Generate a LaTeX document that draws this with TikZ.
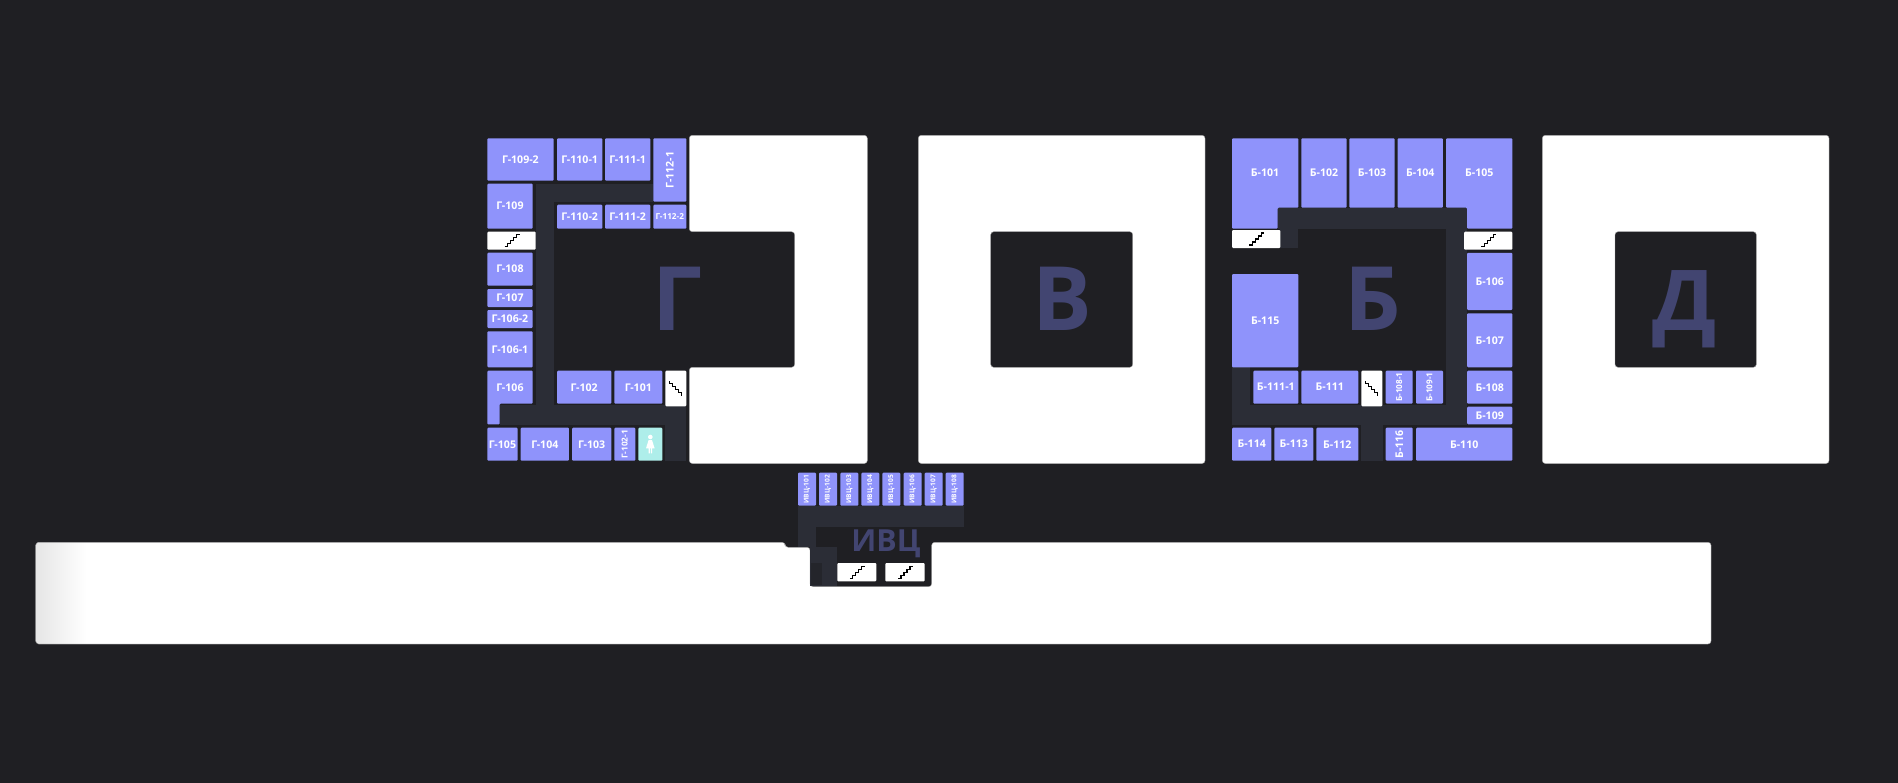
\documentclass[tikz,border=0pt]{standalone}
\usepackage{fontspec}
\setmainfont{Open Sans}[BoldFont={Open Sans Bold}]
\usepackage{xcolor}
\definecolor{mapdark}{RGB}{31,31,35}
\definecolor{mapcorridor}{RGB}{43,45,54}
\definecolor{mappatch}{RGB}{36,37,43}
\definecolor{maproom}{RGB}{143,147,251}
\definecolor{mapletter}{RGB}{66,69,113}
\definecolor{mapwc}{RGB}{174,238,234}
\tikzset{
  room/.style 2 args={
    rectangle,
    rounded corners=0.5pt,
    fill=maproom,
    text=white,
    inner sep=0pt,
    minimum width=#1*0.5pt,
    minimum height=#2*0.5pt,
    font=\bfseries\fontsize{5.3}{6}\selectfont
  },
  roomsmall/.style={
    font=\bfseries\fontsize{4.1}{5}\selectfont
  },
  roomtiny/.style={
    font=\bfseries\fontsize{3.3}{4}\selectfont
  },
  stairbox/.style 2 args={
    rectangle,
    rounded corners=0.5pt,
    fill=white,
    inner sep=0pt,
    minimum width=#1*0.5pt,
    minimum height=#2*0.5pt
  },
  building/.style={
    fill=white,
    draw=black!35,
    line width=0.2pt,
    rounded corners=1.5pt
  },
  court/.style={
    fill=mapdark,
    draw=black!35,
    line width=0.2pt,
    rounded corners=1.5pt
  },
  corridor/.style={
    fill=mapcorridor
  },
  wingletter/.style={
    text=mapletter,
    inner sep=0pt,
    font=\bfseries\fontsize{44.4}{50}\selectfont
  },
  stairs/.pic={
    \draw[black, line width=0.55pt, line join=miter]
      (-7,6) -- (-4,6) -- (-4,3) -- (-1,3) -- (-1,0) -- (2,0) -- (2,-3) -- (5,-3) -- (5,-6) -- (8,-6);
  }
}
\begin{document}
\begin{tikzpicture}[x=0.5pt,y=-0.5pt]
\useasboundingbox (0,0) rectangle (1898,782);
\fill[mapdark] (-6,-6) rectangle (1904,788);

% corridors
\fill[corridor] (535.7,183.7) rectangle (553.7,425);
\fill[corridor] (535.7,183.7) rectangle (653.3,201.7);
\fill[corridor] (499.7,405) rectangle (686.3,425);
\fill[corridor] (665.3,425) rectangle (686.3,460.7);
\fill[corridor] (1277.7,207.7) rectangle (1467,228.7);
\fill[corridor] (1280.3,228) rectangle (1298.3,248);
\fill[corridor] (1446,207.7) rectangle (1467,425);
\fill[corridor] (1232,405) rectangle (1467,425);
\fill[corridor] (1232,367.3) rectangle (1250.3,425);
\fill[corridor] (1361.3,425) rectangle (1382.7,460.7);

% wings
\draw[building] (689.3,135.3) -- (867.3,135.3) -- (867.3,463.5) -- (689.3,463.5) -- (689.3,367.3)
  -- (794.7,367.3) -- (794.7,231.7) -- (689.3,231.7) -- cycle;
\draw[building] (918.3,135.3) rectangle (1205,463.5);
\draw[court] (990.7,231.7) rectangle (1132.7,367.3);
\draw[building] (1542.3,135.3) rectangle (1829,463.5);
\draw[court] (1615,231.7) rectangle (1756.3,367.3);

% long block
\draw[building] (35.7,542.3) -- (785,542.3) -- (785,547.3) -- (810,547.3) -- (810,586.7)
  -- (931.7,586.7) -- (931.7,542.3) -- (1711,542.3) -- (1711,644) -- (35.7,644) -- cycle;
\foreach \fadex in {38,40,...,86}
  \fill[black, opacity=0.005] (36,542.8) rectangle (\fadex,643.5);
\fill[corridor] (798,505.7) rectangle (963.7,526.7);
\fill[corridor] (798,526.7) rectangle (816,547.3);
\fill[corridor] (810,547.3) rectangle (837,585.5);
\fill[mappatch] (811,563) rectangle (822,585);

% wing letters
\node[wingletter] (wingg) at (677.2,299) {Г};
\node[wingletter] (wingv) at (1062.2,299) {В};
\node[wingletter] (wingb) at (1372.5,299) {Б};
\node[wingletter, anchor=base, font=\bfseries\fontsize{42}{50}\selectfont] (wingd) at (1685,330.7) {Д};
\node[wingletter, font=\bfseries\fontsize{15.2}{17}\selectfont, anchor=base] (wingivc) at (886,551.7) {ИВЦ};

% wing G
\node[room={66.4}{42.4}] (g1092) at (520.5,159.5) {Г-109-2};
\node[room={45.3}{42.4}] (g1101) at (579.7,159.5) {Г-110-1};
\node[room={45.3}{42.4}] (g1111) at (627.7,159.5) {Г-111-1};
\node[room={63.4}{33}, rotate=90] (g1121) at (669.8,170) {Г-112-1};
\node[room={45.3}{24}] (g1102) at (579.7,216.7) {Г-110-2};
\node[room={45.3}{24}] (g1112) at (627.7,216.7) {Г-111-2};
\node[room={33}{24}, roomsmall] (g1122) at (669.8,216.7) {Г-112-2};
\node[room={45.4}{45}] (g109) at (510,206.2) {Г-109};
\node[stairbox={48.4}{18}] (gstair1) at (511.5,240.7) {};
\node[room={45.4}{33}] (g108) at (510,269.2) {Г-108};
\node[room={45.4}{18}] (g107) at (510,298) {Г-107};
\node[room={45.4}{18}] (g1062) at (510,319) {Г-106-2};
\node[room={45.4}{36}] (g1061) at (510,349.3) {Г-106-1};
\fill[maproom, rounded corners=0.5pt] (487.3,370.7) -- (532.7,370.7) -- (532.7,403.7) -- (499.7,403.7)
  -- (499.7,424.3) -- (487.3,424.3) -- cycle;
\node[room={45.4}{33}, fill=none] (g106) at (510,387.2) {Г-106};
\node[room={30.4}{33}] (g105) at (502.5,444.2) {Г-105};
\node[room={48.3}{33}] (g104) at (544.8,444.2) {Г-104};
\node[room={39.3}{33}] (g103) at (591.7,444.2) {Г-103};
\node[room={33}{21}, roomsmall, rotate=90] (g1021) at (624.8,444.2) {Г-102-1};
\node[room={24}{33}, fill=mapwc] (gwc) at (650.3,444.2) {};
\fill[white] (gwc.center) ++(0,-7.2) circle (2.3);
\fill[white] (648.6,440) -- (652,440) -- (654.6,448.3) -- (652,448.3) -- (652,453.3) -- (650.8,453.3)
  -- (650.8,448.3) -- (649.8,448.3) -- (649.8,453.3) -- (648.6,453.3) -- (648.6,448.3) -- (646,448.3) -- cycle;
\node[room={54.3}{33}] (g102) at (584.2,387.2) {Г-102};
\node[room={48}{33}] (g101) at (638.3,387.2) {Г-101};
\node[stairbox={21}{35.6}] (gstair2) at (675.8,388.5) {};
\pic at (gstair1.center) {stairs};
\pic[rotate=90] at (gstair2.center) {stairs};

% wing B
\fill[maproom, rounded corners=0.5pt] (1232,138.3) -- (1298.3,138.3) -- (1298.3,207.7) -- (1277.7,207.7)
  -- (1277.7,228.7) -- (1232,228.7) -- cycle;
\node[room={66.3}{69.4}, fill=none] (b101) at (1265,173) {Б-101};
\node[room={45.4}{69.4}] (b102) at (1324,173) {Б-102};
\node[room={45.4}{69.4}] (b103) at (1372,173) {Б-103};
\node[room={45.3}{69.4}] (b104) at (1420.3,173) {Б-104};
\fill[maproom, rounded corners=0.5pt] (1446,138.3) -- (1512.3,138.3) -- (1512.3,228.7) -- (1467,228.7)
  -- (1467,207.7) -- (1446,207.7) -- cycle;
\node[room={66.3}{69.4}, fill=none] (b105) at (1479.3,173) {Б-105};
\node[stairbox={48.3}{18}] (bstair1) at (1256.2,239) {};
\node[stairbox={48.3}{18}] (bstair2) at (1488.2,240.7) {};
\node[room={45.3}{57.3}] (b106) at (1489.7,281.4) {Б-106};
\node[room={45.3}{54}] (b107) at (1489.7,340.3) {Б-107};
\node[room={45.3}{33}] (b108) at (1489.7,387.2) {Б-108};
\node[room={45.3}{17.6}] (b109) at (1489.7,415.5) {Б-109};
\node[room={96.3}{33}] (b110) at (1464.2,444.2) {Б-110};
\node[room={33}{27}, rotate=90] (b116) at (1399.2,444.2) {Б-116};
\node[room={42}{33}] (b112) at (1337.3,444.2) {Б-112};
\node[room={39}{33}] (b113) at (1293.8,444.2) {Б-113};
\node[room={39.3}{33}] (b114) at (1251.7,444.2) {Б-114};
\node[room={66.3}{93.3}] (b115) at (1265.2,320.7) {Б-115};
\node[room={45}{33}] (b1111) at (1275.8,387.2) {Б-111-1};
\node[room={57}{33}] (b111) at (1329.8,387.2) {Б-111};
\node[stairbox={21}{35.6}] (bstair3) at (1371.8,388.5) {};
\node[room={33}{27}, roomsmall, rotate=90] (b1081) at (1399.2,387.2) {Б-108-1};
\node[room={33}{27}, roomsmall, rotate=90] (b1091) at (1429.5,387.2) {Б-109-1};
\pic at (bstair1.center) {stairs};
\pic at (bstair2.center) {stairs};
\pic[rotate=90] at (bstair3.center) {stairs};

% IVC
\node[room={33}{18}, roomtiny, rotate=90] (i101) at (807,489.2) {ИВЦ-101};
\node[room={33}{18}, roomtiny, rotate=90] (i102) at (828,489.2) {ИВЦ-102};
\node[room={33}{18}, roomtiny, rotate=90] (i103) at (849.3,489.2) {ИВЦ-103};
\node[room={33}{18}, roomtiny, rotate=90] (i104) at (870.3,489.2) {ИВЦ-104};
\node[room={33}{18}, roomtiny, rotate=90] (i105) at (891.3,489.2) {ИВЦ-105};
\node[room={33}{18}, roomtiny, rotate=90] (i106) at (912.7,489.2) {ИВЦ-106};
\node[room={33}{18}, roomtiny, rotate=90] (i107) at (933.7,489.2) {ИВЦ-107};
\node[room={33}{18}, roomtiny, rotate=90] (i108) at (954.7,489.2) {ИВЦ-108};
\node[stairbox={39}{18.3}] (istair1) at (856.8,572.2) {};
\node[stairbox={39.4}{18.3}] (istair2) at (905,572.2) {};
\pic at (istair1.center) {stairs};
\pic at (istair2.center) {stairs};
\end{tikzpicture}
\end{document}
